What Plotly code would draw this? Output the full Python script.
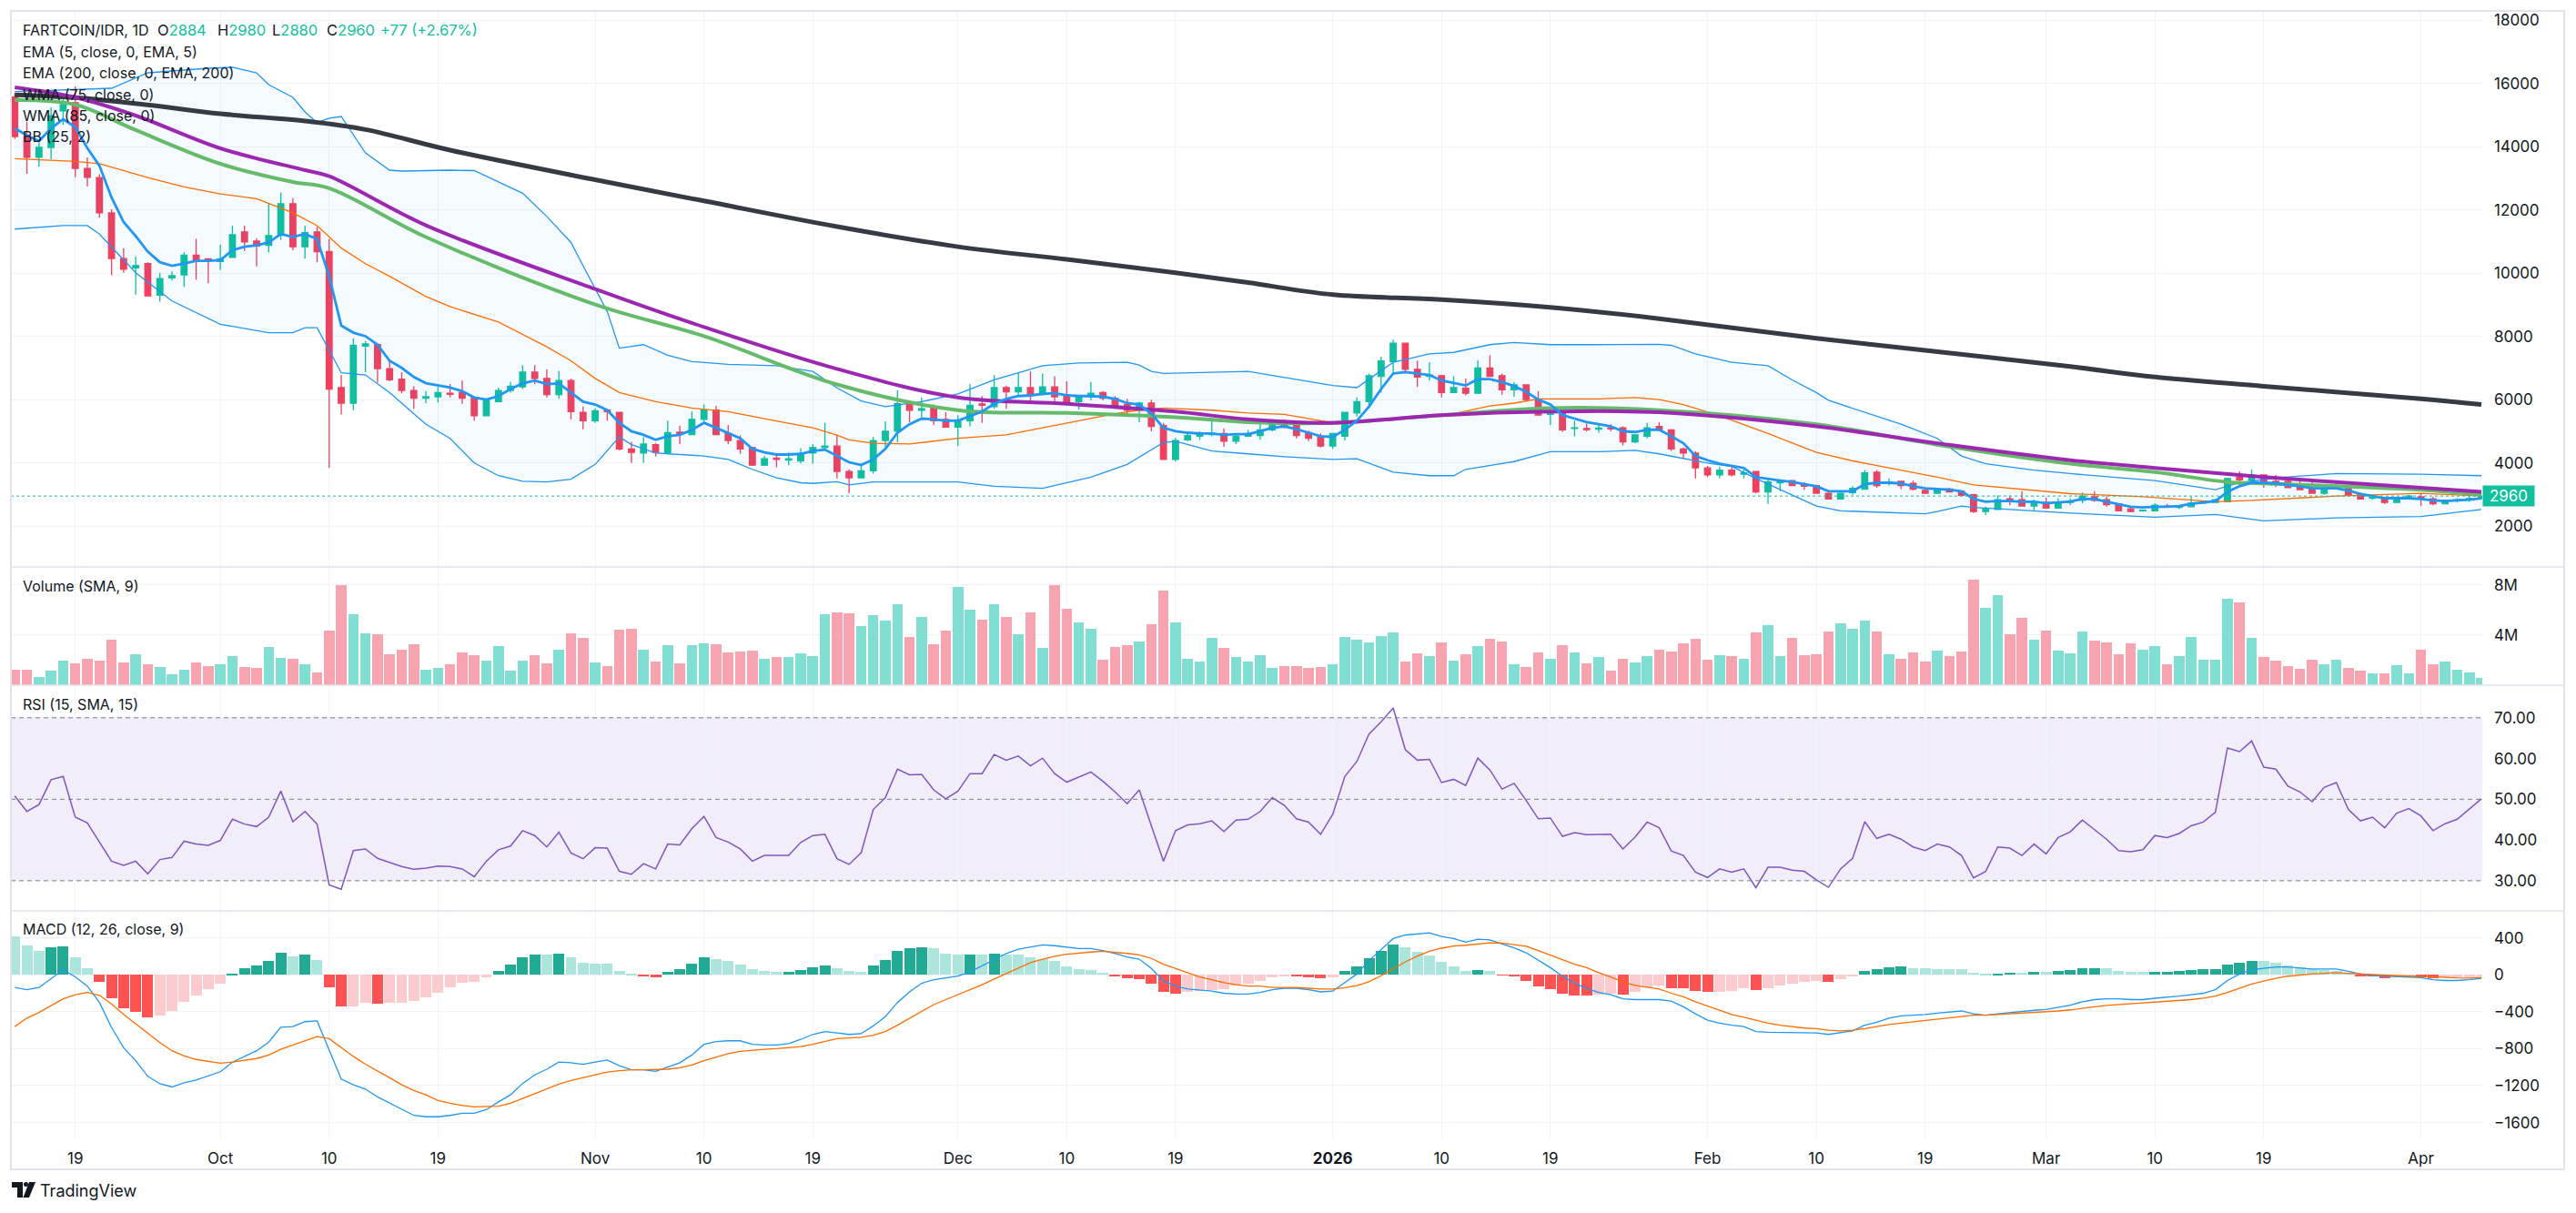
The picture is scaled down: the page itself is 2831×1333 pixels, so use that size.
import pandas as pd
import plotly.graph_objects as go
from plotly.subplots import make_subplots

# ---------------- data ----------------
start_date = "2025-09-14"
n_days = 205
dates = pd.date_range(start_date, periods=n_days, freq="D")

open_ = [15580,14330,13670,13986,15140,15400,13320,13030,11915,10470,
 10180,10310,9310,9860,9954,10578,10466,10380,10510,11313,
 11023,10890,11202,12205,10845,11313,10690,6390,5899,7700,
 7750,6990,6656,6300,6055,6100,6211,6233,6077,5498,
 5944,6300,6411,6880,6679,6166,6612,5610,5342,5676,
 5610,4451,4317,4585,4317,4980,4900,5387,5676,4940,
 4718,4495,3938,4160,4100,4072,4317,4495,4540,3738,
 3537,3760,4718,5008,5877,5676,5743,5387,5141,5342,
 5870,5788,6389,6255,6389,6166,6411,6166,5943,6100,
 6233,6055,5854,5676,5899,5186,4117,4740,4850,4900,
 4940,4696,4852,4874,5052,5342,5230,4963,4852,4540,
 4852,5587,5943,6746,7214,7793,6968,6746,6768,6233,
 6367,6211,7013,6768,6322,6478,6010,5540,5610,5097,
 5097,5075,5120,5120,4673,4852,5164,5052,4451,4317,
 3850,3627,3782,3650,3738,3092,3380,3448,3310,3292,
 3047,2870,3069,3180,3715,3380,3426,3359,3136,3047,
 3180,3114,3003,2468,2535,2870,2847,2646,2757,2579,
 2757,2824,2935,2847,2713,2557,2490,2490,2646,2600,
 2624,2735,2757,2780,3560,3470,3627,3426,3426,3292,
 3203,3047,3203,3292,3003,2890,2913,2757,2935,2935,
 2870,2713,2824,2847,2884]

high = [15700,14790,14130,15250,15710,15910,13670,13140,12030,10800,
 10530,10355,10020,10065,10667,11090,10470,10912,11513,11513,
 11112,12227,12561,12383,11513,11469,11090,6790,7949,7860,
 7793,7236,6880,6434,6278,6411,6500,6612,6122,6033,
 6390,6567,7102,7102,6968,6924,6679,5788,5743,5676,
 5610,4673,4830,4630,5342,5186,5632,5854,5810,5208,
 4874,4518,4228,4273,4340,4473,4607,5275,4896,3805,
 3983,4830,5320,6300,5988,6077,5854,5610,5520,6500,
 6122,6790,6456,6880,6902,6835,6746,6589,6144,6567,
 6278,6122,6033,5944,6010,5275,4807,4963,5008,5342,
 5097,4940,5052,5253,5387,5387,5320,5030,4940,4940,
 5610,6077,6835,7370,7904,7793,7236,7191,6790,6746,
 6679,7258,7414,6835,6567,6478,6278,5610,5610,5342,
 5253,5230,5230,5164,4896,5275,5297,5052,4495,4384,
 3916,3894,3894,3805,3738,3515,3493,3448,3404,3314,
 3069,3069,3270,3782,3782,3515,3448,3448,3225,3225,
 3225,3136,3025,2624,2980,2980,3114,2847,2913,2891,
 2891,3069,3114,2958,2735,2624,2535,2735,2713,2668,
 2935,2780,2870,3515,3738,3805,3649,3627,3470,3426,
 3404,3225,3426,3314,3069,2958,2913,2913,3003,3047,
 2935,2824,2891,2935,2980]

low = [14250,13150,13380,13610,14700,13040,12750,11760,9950,10020,
 9330,9286,9110,9776,9575,9798,9687,10110,10510,10712,
 10221,10667,11068,10734,10466,10355,3850,5542,5676,6880,
 6545,6590,6211,5720,5899,5921,6077,5877,5342,5498,
 5944,6233,6345,6500,6077,6033,5387,5075,5275,5342,
 4406,4005,4005,4206,4317,4607,4900,5320,4900,4607,
 4295,3916,3916,3872,3938,3983,3983,4451,3515,3047,
 3537,3671,4518,4652,5297,5453,5208,5141,4540,5164,
 5275,5720,5720,6122,5944,6166,5921,5943,5698,5988,
 5988,5720,5475,5297,5008,4117,4050,4696,4740,4852,
 4518,4607,4830,4740,5008,5097,4785,4696,4495,4451,
 4718,5476,5743,6233,6790,6835,6411,6612,6077,6233,
 6144,6211,6746,6166,6100,5944,5520,5208,4985,4852,
 5008,4963,5008,4562,4630,4785,5008,4384,4161,3515,
 3560,3515,3582,3515,3047,2713,3114,3292,3159,3025,
 2847,2847,3003,3180,3225,3292,3180,3136,3047,3047,
 3092,2958,2423,2356,2535,2668,2646,2512,2557,2579,
 2668,2735,2780,2624,2490,2445,2468,2490,2600,2557,
 2624,2713,2757,2780,3292,3426,3225,3247,3225,3159,
 3047,3003,3181,2980,2870,2847,2713,2757,2891,2646,
 2668,2713,2757,2780,2880]

close = [14330,13670,13986,14990,15340,13320,13040,11915,10470,10130,
 10250,9290,9840,9930,10578,10420,10400,10466,11224,11000,
 10868,11200,12205,10845,11291,10690,6345,5899,7726,7770,
 6990,6634,6300,6055,6100,6233,6180,6055,5498,5988,
 6300,6434,6880,6679,6166,6612,5632,5342,5654,5632,
 4451,4340,4607,4340,4963,4940,5387,5676,4900,4718,
 4451,3938,4139,4117,4139,4295,4495,4540,3738,3537,
 3760,4718,5008,5877,5676,5720,5342,5141,5342,5832,
 5830,6389,6255,6389,6166,6411,6100,5943,6100,6211,
 6055,5810,5676,5899,5164,4117,4718,4874,4900,4940,
 4696,4852,4940,5052,5342,5164,4874,4785,4540,4940,
 5610,5943,6768,7236,7793,6968,6723,6790,6233,6389,
 6211,7013,6746,6322,6478,6010,5520,5565,5052,5120,
 5060,5110,5080,4673,4896,5120,5052,4451,4317,3850,
 3627,3782,3627,3693,3092,3404,3420,3292,3270,3047,
 2870,3047,3203,3693,3292,3404,3292,3180,3047,3180,
 3092,2980,2468,2557,2847,2830,2646,2735,2579,2757,
 2800,2958,2824,2690,2490,2468,2512,2668,2620,2630,
 2735,2760,2847,3515,3470,3627,3381,3380,3225,3159,
 3047,3203,3225,2980,2870,2913,2757,2913,2958,2870,
 2713,2824,2847,2883,2960]

volume_m = [1.24,1.24,0.62,1.13,1.97,1.75,2.08,1.97,3.6,1.8,
 2.48,1.69,1.46,0.85,1.24,1.8,1.52,1.69,2.31,1.46,
 1.35,3.04,2.2,2.08,1.69,1.01,4.34,8.0,5.69,4.11,
 4.06,2.48,2.87,3.27,1.24,1.35,1.69,2.59,2.37,1.97,
 3.1,1.13,1.97,2.37,1.75,2.87,4.11,3.77,1.8,1.52,
 4.45,4.5,2.87,1.86,3.21,1.75,3.21,3.32,3.27,2.59,
 2.7,2.76,2.08,2.25,2.25,2.54,2.31,5.69,5.8,5.75,
 4.73,5.58,5.13,6.48,3.83,5.46,3.27,4.34,7.83,6.03,
 5.24,6.48,5.46,4.06,5.8,2.99,8.0,6.08,5.01,4.5,
 2.03,3.04,3.21,3.49,4.85,7.55,5.01,2.08,1.86,3.77,
 2.99,2.25,1.86,2.37,1.35,1.52,1.52,1.35,1.46,1.69,
 3.83,3.6,3.44,3.94,4.23,1.86,2.54,2.31,3.44,1.97,
 2.48,3.1,3.72,3.49,1.69,1.46,2.59,2.08,3.21,2.59,
 1.75,2.25,1.13,2.08,1.8,2.31,2.82,2.7,3.32,3.72,
 2.03,2.37,2.31,2.08,4.23,4.79,2.31,3.77,2.37,2.48,
 4.28,4.96,4.5,5.13,4.28,2.48,2.08,2.59,1.86,2.76,
 2.31,2.7,8.45,6.2,7.21,4.06,5.35,3.6,4.34,2.76,
 2.54,4.28,3.55,3.44,2.48,3.32,2.82,3.1,1.69,2.31,
 3.83,2.03,2.03,6.87,6.59,3.77,2.25,1.97,1.52,1.3,
 2.03,1.69,2.03,1.35,1.13,0.96,0.96,1.58,0.96,2.87,
 1.69,1.86,1.24,1.01,0.56]

ema5 = [14588,14365,14187,14588,14878,14633,13964,13407,12405,11625,
 11180,10690,10355,10244,10310,10400,10400,10422,10734,10845,
 10890,10979,11246,11157,11246,11090,9909,8350,8127,8016,
 7748,7236,7013,6723,6530,6456,6389,6278,6077,6010,
 6122,6345,6523,6612,6500,6523,6233,5944,5854,5676,
 5275,5008,4896,4740,4852,4896,5052,5275,5119,4941,
 4785,4451,4340,4273,4273,4295,4384,4429,4240,4028,
 3938,4117,4451,4963,5231,5409,5387,5342,5342,5498,
 5632,5877,6033,6122,6144,6189,6211,6144,6122,6122,
 6100,6033,5899,5854,5565,5119,5008,4963,4941,4941,
 4896,4919,4919,5008,5119,5164,5075,4963,4852,4830,
 5052,5342,5788,6345,6835,6879,6835,6790,6612,6523,
 6456,6657,6657,6567,6434,6256,6010,5854,5520,5409,
 5297,5231,5164,5008,4985,5052,5060,4852,4629,4228,
 4094,3983,3916,3849,3560,3493,3448,3404,3337,3270,
 3114,3114,3114,3337,3381,3381,3359,3270,3203,3181,
 3159,3114,2869,2780,2802,2802,2780,2780,2735,2757,
 2790,2869,2869,2780,2691,2624,2602,2624,2624,2646,
 2713,2757,2802,3092,3270,3381,3381,3359,3315,3270,
 3203,3203,3203,3136,3025,2958,2891,2891,2891,2869,
 2824,2802,2824,2847,2891]

# smooth indicator lines, sampled at candle numbers (1-based)
ema200_n = [1,6,12,18,25,30,37,49,58,69,79,88,97,103,110,119,128,137,150,159,171,178,187,200,205]
ema200_v = [15650,15560,15330,15050,14820,14550,13900,12962,12293,11480,10845,10444,10021,9710,
            9330,9174,8929,8570,7949,7570,7055,6723,6434,6033,5854]

wma85_n = [1,6,11,18,25,27,35,49,58,69,79,88,97,103,110,119,128,137,150,160,171,178,187,200,205]
wma85_v = [15885,15568,14993,13957,13266,13073,11520,9508,8305,6980,6077,5877,5632,5387,
           5275,5520,5632,5609,5164,4629,4095,3849,3560,3225,3092]

wma75_n = [1,6,11,18,24,27,35,49,58,69,79,88,97,103,110,119,128,137,150,160,171,178,184,187,200,205]
wma75_v = [15482,15338,14533,13467,12892,12694,11150,9018,8016,6490,5676,5587,5453,5297,
           5275,5520,5743,5676,5231,4585,3983,3716,3404,3359,3159,3003]

bb_mid_n = [1,6,8,12,15,18,21,24,26,28,30,32,35,37,41,45,47,49,51,54,57,60,63,67,69,70,72,75,79,83,
            86,89,92,94,96,100,103,106,110,113,117,120,123,125,127,129,132,135,137,139,142,146,150,153,
            157,160,163,166,171,177,183,186,193,200,205]
bb_mid_v = [13630,13541,13474,13029,12739,12516,12360,11915,11513,10801,10310,9909,9270,8951,8461,
            7681,7236,6679,6233,5944,5743,5632,5409,5119,4885,4740,4629,4607,4785,4896,5119,5342,5565,
            5676,5743,5676,5587,5542,5275,5320,5453,5565,5810,5899,6033,6033,6033,6077,6010,5854,5498,
            4941,4340,4072,3782,3560,3315,3203,3036,2936,2780,2824,2958,3047,2958]

bb_up_n = [1,5,9,12,17,19,21,22,24,25,26,27,28,30,32,33,37,39,43,45,47,48,50,51,53,55,57,60,64,67,
           69,71,73,76,79,82,84,86,89,92,93,94,95,96,103,110,112,115,118,120,123,125,128,131,137,138,
           140,143,146,148,150,151,154,157,160,162,164,168,171,178,183,185,188,193,200,205]
bb_up_v = [15750,15800,15856,16345,16489,16518,16345,15971,15568,15108,14763,14907,14964,13813,13266,
           13237,13266,13251,12538,11803,10979,10244,8795,7637,7748,7414,7214,7125,7080,6902,6380,5966,
           5788,5944,6189,6634,6857,7080,7169,7191,7191,7102,6902,6835,6902,6456,6389,7191,7459,7503,
           7748,7815,7748,7748,7760,7726,7459,7191,7080,6634,6233,5988,5610,5231,4785,4228,3983,3783,
           3671,3448,3159,3381,3537,3671,3649,3604]

bb_lo_n = [1,5,7,8,11,14,18,22,24,25,26,28,30,32,35,37,39,41,43,45,47,49,51,52,54,58,60,62,64,66,67,
           69,70,72,79,82,86,90,93,94,96,97,100,103,106,110,112,115,118,120,121,125,128,132,135,137,141,
           143,145,150,152,159,160,162,163,166,171,178,183,187,193,200,205]
bb_lo_v = [11402,11513,11513,11246,10020,9130,8394,8127,8127,8283,8283,6857,6790,6233,5230,4785,4005,
           3604,3426,3404,3493,3961,4830,4585,4317,4228,4117,3805,3537,3381,3359,3415,3314,3404,3404,
           3270,3203,3560,3961,4184,4651,4696,4384,4295,4206,4117,4139,3716,3604,3604,3805,4050,4362,
           4362,4406,4295,4005,3894,3515,2646,2490,2401,2468,2646,2602,2535,2423,2290,2379,2178,2267,
           2312,2535]

rsi = [50.8,47.0,48.7,54.8,55.6,45.6,44.2,39.5,34.8,33.8,
 34.8,31.7,35.2,35.7,39.7,39.0,38.7,39.9,45.1,43.9,
 43.3,45.6,52.0,44.5,47.0,43.9,29.0,27.9,37.4,37.8,
 35.5,34.5,33.5,32.8,33.1,33.6,33.5,32.9,31.0,34.8,
 37.6,38.5,42.3,41.1,38.3,41.9,36.8,35.4,38.1,38.0,
 32.3,31.6,34.2,32.9,39.0,38.8,42.8,45.8,40.6,39.5,
 37.8,34.8,36.2,36.2,36.2,39.4,41.1,41.4,35.4,34.0,
 36.9,47.5,50.4,57.4,56.0,56.1,52.3,50.1,52.0,56.3,
 56.3,61.0,59.6,60.6,58.2,60.1,56.3,54.2,55.5,56.7,
 54.4,51.8,48.9,52.3,43.5,34.8,42.3,43.7,44.0,44.7,
 42.1,44.9,45.1,47.0,50.4,48.5,45.2,44.4,41.4,46.3,
 55.6,59.3,66.0,69.0,72.4,62.2,59.6,59.8,54.1,54.9,
 53.4,60.1,57.2,52.5,53.9,49.7,45.2,45.4,40.9,41.8,
 41.3,41.4,41.4,37.8,40.7,44.4,43.0,37.3,36.2,32.1,
 30.8,32.9,32.1,32.9,28.3,33.3,33.3,32.6,32.3,30.2,
 28.4,32.9,35.5,44.5,40.4,41.4,40.2,38.3,37.4,39.0,
 38.3,36.2,30.7,32.3,38.3,38.0,36.2,39.0,36.6,40.6,
 42.0,44.9,42.6,40.2,37.4,37.1,37.6,41.1,40.6,41.6,
 43.5,44.4,46.8,62.6,61.7,64.3,57.9,57.4,53.2,51.8,
 49.4,52.9,54.1,47.5,44.7,45.6,43.0,46.6,47.7,45.9,
 42.3,44.0,45.1,47.5,50.1]

macd = [-138,-161,-138,-46,54,-23,-123,-300,-570,-790,
 -930,-1100,-1180,-1215,-1170,-1140,-1095,-1050,-946,-884,
 -823,-730,-569,-561,-508,-500,-815,-1130,-1192,-1238,
 -1323,-1392,-1461,-1523,-1538,-1538,-1523,-1500,-1500,-1461,
 -1377,-1300,-1177,-1084,-1023,-946,-953,-969,-946,-923,
 -984,-1030,-1030,-1046,-1000,-953,-869,-754,-723,-715,
 -715,-754,-761,-761,-746,-700,-646,-615,-630,-646,
 -638,-554,-454,-300,-185,-92,-54,-38,-15,31,
 100,169,231,277,300,323,315,300,285,285,
 262,231,192,169,69,-69,-123,-154,-169,-177,
 -200,-208,-208,-192,-161,-146,-146,-161,-185,-177,
 -85,8,154,277,392,431,446,454,415,392,
 354,385,377,331,292,238,161,77,-15,-92,
 -146,-192,-215,-261,-269,-269,-269,-285,-346,-423,
 -492,-523,-546,-561,-615,-623,-623,-623,-623,-630,
 -646,-630,-608,-546,-515,-469,-446,-438,-431,-415,
 -400,-392,-423,-438,-423,-408,-400,-385,-377,-354,
 -330,-292,-269,-261,-261,-269,-269,-254,-246,-231,
 -215,-200,-161,-62,8,54,69,85,85,77,
 62,62,62,38,8,-8,-15,-23,-31,-31,
 -54,-62,-62,-54,-38]

signal = [-561,-469,-408,-338,-261,-215,-192,-223,-316,-429,
 -530,-639,-734,-823,-878,-917,-941,-958,-946,-930,
 -907,-869,-807,-761,-715,-669,-692,-792,-884,-969,
 -1038,-1115,-1192,-1253,-1300,-1361,-1392,-1415,-1430,-1430,
 -1423,-1392,-1338,-1292,-1238,-1184,-1146,-1115,-1084,-1054,
 -1038,-1030,-1030,-1030,-1023,-1007,-977,-930,-892,-854,
 -830,-815,-807,-800,-792,-777,-754,-723,-692,-684,
 -677,-654,-615,-546,-469,-392,-323,-269,-215,-161,
 -108,-46,15,77,131,169,200,223,238,246,
 254,246,231,215,177,115,69,23,-23,-54,
 -85,-108,-123,-123,-138,-138,-138,-146,-154,-154,
 -140,-118,-75,-10,67,140,202,254,288,311,
 320,333,345,344,323,308,262,215,161,115,
 77,23,-23,-77,-115,-138,-154,-200,-238,-292,
 -338,-385,-431,-461,-492,-523,-546,-561,-577,-584,
 -600,-608,-600,-584,-561,-538,-523,-508,-492,-477,
 -461,-446,-438,-438,-431,-423,-415,-408,-400,-392,
 -380,-361,-346,-331,-323,-315,-308,-300,-292,-277,
 -269,-254,-231,-192,-146,-100,-69,-38,-15,0,
 8,15,23,15,8,0,0,-8,-15,-15,
 -23,-31,-34,-36,-30]

hist = [415,315,262,300,308,185,69,-77,-254,-361,
 -400,-461,-446,-392,-292,-223,-154,-92,15,69,
 100,154,238,200,215,161,-138,-346,-338,-308,
 -315,-308,-300,-285,-246,-192,-138,-85,-77,-31,
 46,115,192,223,215,231,192,131,123,120,
 46,5,-15,-23,31,62,123,192,169,146,
 115,62,46,28,33,54,85,100,72,46,
 31,100,161,254,292,300,285,231,215,223,
 215,231,223,220,192,169,154,92,62,54,
 23,-15,-38,-46,-100,-185,-200,-185,-177,-161,
 -154,-115,-100,-69,-31,-15,-18,-23,-38,-31,
 38,92,177,254,323,300,246,208,138,92,
 38,54,46,-5,-15,-69,-123,-154,-200,-223,
 -228,-215,-208,-212,-185,-131,-118,-146,-150,-177,
 -185,-183,-180,-146,-161,-146,-115,-92,-77,-69,
 -72,-46,-15,46,62,85,88,69,67,65,
 62,60,23,3,15,23,21,31,29,46,
 54,69,72,69,46,31,29,31,33,46,
 54,58,62,115,131,154,146,131,100,85,
 62,54,46,23,-15,-18,-38,-23,-22,-28,
 -38,-31,-30,-23,-15]

price_ticks = [2000, 4000, 6000, 8000, 10000, 12000, 14000, 16000, 18000]
vol_ticks = [4e6, 8e6]
vol_tick_text = ["4M", "8M"]
rsi_ticks = [30, 40, 50, 60, 70]
rsi_levels = [70, 50, 30]
macd_ticks = [-1600, -1200, -800, -400, 0, 400]
x_tick_dates = ["2025-09-19","2025-10-01","2025-10-10","2025-10-19","2025-11-01","2025-11-10",
                "2025-11-19","2025-12-01","2025-12-10","2025-12-19","2026-01-01","2026-01-10",
                "2026-01-19","2026-02-01","2026-02-10","2026-02-19","2026-03-01","2026-03-10",
                "2026-03-19","2026-04-01"]
x_tick_text = ["19","Oct","10","19","Nov","10","19","Dec","10","19","<b>2026</b>","10","19",
               "Feb","10","19","Mar","10","19","Apr"]
last_price = 2960
header_items = [("O", "2884"), ("H", "2980"), ("L", "2880"), ("C", "2960"), ("", "+77 (+2.67%)")]

# ---------------- styling ----------------
UP = "#10bf9e"
DN = "#f23f5c"
VOL_UP = "#80dfd2"
VOL_DN = "#f8a3b0"
GRID = "#f0f3fa"
BORDER = "#e0e3eb"
TXT = "#131722"
FONT = "Inter, Roboto, sans-serif"

W, H = 2831, 1333
L, R, T, B = 12, 2728, 12, 1251  # plot area in pixels
def px(X):
    return (X - L) / (R - L)
def py(Y):
    return (B - Y) / (B - T)

def pick(ns):
    return [dates[n - 1] for n in ns]

fig = make_subplots(rows=4, cols=1, shared_xaxes=True, vertical_spacing=0,
                    row_heights=[611, 130, 248, 250])

# Bollinger bands
fig.add_trace(go.Scatter(x=pick(bb_lo_n), y=bb_lo_v, mode="lines",
                         line=dict(color="#2196f3", width=1.3), hoverinfo="skip"), row=1, col=1)
fig.add_trace(go.Scatter(x=pick(bb_up_n), y=bb_up_v, mode="lines", fill="tonexty",
                         fillcolor="rgba(33,150,243,0.05)",
                         line=dict(color="#2196f3", width=1.3), hoverinfo="skip"), row=1, col=1)
fig.add_trace(go.Scatter(x=pick(bb_mid_n), y=bb_mid_v, mode="lines",
                         line=dict(color="#ff6d00", width=1.3), hoverinfo="skip"), row=1, col=1)

# candles
fig.add_trace(go.Candlestick(x=dates, open=open_, high=high, low=low, close=close,
                             increasing=dict(line=dict(color=UP, width=1.3), fillcolor=UP),
                             decreasing=dict(line=dict(color=DN, width=1.3), fillcolor=DN),
                             whiskerwidth=0), row=1, col=1)

# moving averages
fig.add_trace(go.Scatter(x=pick(ema200_n), y=ema200_v, mode="lines", line_shape="spline",
                         line=dict(color="#363a45", width=5)), row=1, col=1)
fig.add_trace(go.Scatter(x=pick(wma75_n), y=wma75_v, mode="lines", line_shape="spline",
                         line=dict(color="#66bb6a", width=4)), row=1, col=1)
fig.add_trace(go.Scatter(x=pick(wma85_n), y=wma85_v, mode="lines", line_shape="spline",
                         line=dict(color="#9c27b0", width=4)), row=1, col=1)
fig.add_trace(go.Scatter(x=dates, y=ema5, mode="lines",
                         line=dict(color="#2196f3", width=2.8)), row=1, col=1)

# volume
vol_colors = [VOL_UP if c >= o else VOL_DN for o, c in zip(open_, close)]
fig.add_trace(go.Bar(x=dates, y=[v * 1e6 for v in volume_m], marker=dict(color=vol_colors, line=dict(width=0)),
                     width=0.87 * 86400000), row=2, col=1)

# RSI
fig.add_trace(go.Scatter(x=dates, y=rsi, mode="lines", line=dict(color="#7e57c2", width=1.5)),
              row=3, col=1)

# MACD
hcols = []
for i, h in enumerate(hist):
    prev = hist[i - 1] if i > 0 else None
    if h >= 0:
        hcols.append("#22ab94" if (prev is not None and h > prev) else "#ace5dc")
    else:
        hcols.append("#ff5252" if (prev is not None and h < prev) else "#fccbcd")
fig.add_trace(go.Bar(x=dates, y=hist, marker=dict(color=hcols, line=dict(width=0)),
                     width=0.9 * 86400000), row=4, col=1)
fig.add_trace(go.Scatter(x=dates, y=macd, mode="lines", line=dict(color="#2196f3", width=1.3)),
              row=4, col=1)
fig.add_trace(go.Scatter(x=dates, y=signal, mode="lines", line=dict(color="#ff6d00", width=1.3)),
              row=4, col=1)

# reference lines / band (added after traces so subplots are not empty)
fig.add_hline(y=last_price, line=dict(color=UP, width=1, dash="dot"), row=1, col=1,
              exclude_empty_subplots=False)
fig.add_hrect(y0=30, y1=70, fillcolor="rgba(126,87,194,0.1)", line_width=0, layer="below",
              row=3, col=1, exclude_empty_subplots=False)
for lvl in rsi_levels:
    fig.add_hline(y=lvl, line=dict(color="#787b86", width=1, dash="5px,4px"), row=3, col=1,
                  exclude_empty_subplots=False)

# ---------------- axes ----------------
x0 = pd.Timestamp(start_date) - pd.Timedelta(hours=7.7)
x1 = x0 + pd.Timedelta(days=(R - L) / 13.288)
for r in range(1, 5):
    fig.update_xaxes(row=r, col=1, type="date", range=[x0, x1], showgrid=True, gridcolor=GRID,
                     gridwidth=1, tickvals=x_tick_dates, ticktext=x_tick_text,
                     showticklabels=(r == 4), ticks="", showline=False, zeroline=False,
                     rangeslider=dict(visible=False),
                     tickfont=dict(family=FONT, size=17, color=TXT), ticklabelstandoff=10)

common_y = dict(side="right", showgrid=True, gridcolor=GRID, gridwidth=1, zeroline=False,
                showline=False, ticks="", tickfont=dict(family=FONT, size=17, color=TXT),
                ticklabelstandoff=12)
fig.update_yaxes(row=1, col=1, range=[719, 18302], tickvals=price_ticks, tickformat="d", **common_y)
fig.update_yaxes(row=2, col=1, range=[0, 9.45e6], tickvals=vol_ticks, ticktext=vol_tick_text, **common_y)
fig.update_yaxes(row=3, col=1, range=[22.6, 78.0], tickvals=rsi_ticks, tickformat=".2f", **common_y)
fig.update_yaxes(row=4, col=1, range=[-1772, 692], tickvals=macd_ticks, tickformat="d", **common_y)

# ---------------- frame, separators ----------------
shapes = []
shapes.append(dict(type="rect", xref="paper", yref="paper", x0=px(12), x1=px(2818), y0=py(1285), y1=py(12),
                   line=dict(color=BORDER, width=2), layer="above"))
for Y in (623, 753, 1001):
    shapes.append(dict(type="line", xref="paper", yref="paper", x0=px(12), x1=px(2818), y0=py(Y), y1=py(Y),
                       line=dict(color=BORDER, width=1.5), layer="above"))
# TradingView logo
shapes.append(dict(type="rect", xref="paper", yref="paper", x0=px(13), x1=px(25), y0=py(1305), y1=py(1299),
                   fillcolor=TXT, line_width=0))
shapes.append(dict(type="rect", xref="paper", yref="paper", x0=px(19), x1=px(25), y0=py(1316), y1=py(1299),
                   fillcolor=TXT, line_width=0))
shapes.append(dict(type="circle", xref="paper", yref="paper", x0=px(26), x1=px(31), y0=py(1304), y1=py(1299),
                   fillcolor=TXT, line_width=0))
shapes.append(dict(type="path", xref="paper", yref="paper",
                   path=f"M {px(32)} {py(1299)} L {px(39)} {py(1299)} L {px(32)} {py(1316)} L {px(25.5)} {py(1316)} Z",
                   fillcolor=TXT, line_width=0))
fig.update_layout(shapes=list(fig.layout.shapes) + shapes)

# ---------------- texts ----------------
def tcol(s):
    return f"<span style='color:{UP}'>{s}</span>"
ann = []
ann.append(dict(text="FARTCOIN/IDR, 1D", x=px(23), y=py(33), font=dict(family=FONT, size=16, color=TXT)))
for (lab, val), X in zip(header_items, (171, 237, 297, 357, 416)):
    ann.append(dict(text=f"{lab}{tcol(val)}", x=px(X), y=py(33), font=dict(family=FONT, size=16.5, color=TXT)))
legend_rows = ["EMA (5, close, 0, EMA, 5)", "EMA (200, close, 0, EMA, 200)", "WMA (75, close, 0)",
               "WMA (85, close, 0)", "BB (25, 2)"]
for i, t in enumerate(legend_rows):
    ann.append(dict(text=t, x=px(23), y=py(57 + i * 23.3)))
ann.append(dict(text="Volume (SMA, 9)", x=px(23), y=py(644)))
ann.append(dict(text="RSI (15, SMA, 15)", x=px(23), y=py(774)))
ann.append(dict(text="MACD (12, 26, close, 9)", x=px(23), y=py(1021)))
for a in ann:
    a.update(xref="paper", yref="paper", xanchor="left", yanchor="middle", showarrow=False)
    a.setdefault("font", dict(family=FONT, size=16, color=TXT))
ann.append(dict(text="TradingView", x=px(42), y=py(1308), xref="paper", yref="paper", xanchor="left",
                yanchor="middle", showarrow=False, font=dict(family=FONT, size=18, color=TXT)))
ann.append(dict(text=str(last_price), x=1.0, xref="paper", y=last_price, yref="y", xanchor="left",
                yanchor="middle", showarrow=False, bgcolor=UP, width=54, height=20, borderpad=1,
                font=dict(family=FONT, size=17, color="#ffffff")))
fig.update_layout(annotations=ann)

fig.update_layout(width=W, height=H, margin=dict(l=L, r=W - R, t=T, b=H - B),
                  paper_bgcolor="white", plot_bgcolor="white", showlegend=False,
                  bargap=0, hovermode=False)

fig.write_html("out.html")
